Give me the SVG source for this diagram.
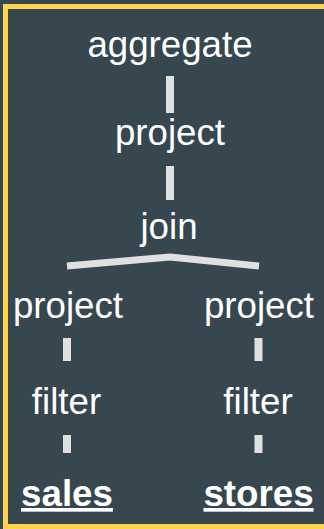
<svg xmlns="http://www.w3.org/2000/svg" width="324" height="529" viewBox="0 0 324 529">
<style>
.t{font-family:"Liberation Sans",Arial,sans-serif;font-size:36.7px;fill:#ffffff;text-anchor:middle}
.b{font-weight:bold;text-decoration:underline}
.c{stroke:#e0e0e0;fill:none;stroke-linecap:butt}
</style>
<rect x="0" y="0" width="324" height="529" fill="#37474f"/>
<rect x="5.5" y="6.5" width="340" height="520" fill="#37474f" stroke="#ffd54f" stroke-width="5"/>
<g id="connectors">
<line class="c" x1="170" y1="76" x2="170" y2="113" stroke-width="8"/>
<line class="c" x1="170" y1="166" x2="170" y2="200" stroke-width="8"/>
<polyline class="c" points="67,266 170,257 259,266" stroke-width="7" stroke-linejoin="round"/>
<line class="c" x1="67" y1="338" x2="67" y2="361" stroke-width="8"/>
<line class="c" x1="258.5" y1="338" x2="258.5" y2="361" stroke-width="8"/>
<line class="c" x1="67" y1="435" x2="67" y2="453" stroke-width="8"/>
<line class="c" x1="258.5" y1="435" x2="258.5" y2="453" stroke-width="8"/>
</g>
<g id="aggregate"><text class="t" x="170" y="57">aggregate</text></g>
<g id="project-top"><text class="t" x="170" y="145">project</text></g>
<g id="join"><text class="t" x="169" y="239">join</text></g>
<g id="project-left"><text class="t" x="68" y="318">project</text></g>
<g id="project-right"><text class="t" x="259" y="318">project</text></g>
<g id="filter-left"><text class="t" x="66.5" y="414">filter</text></g>
<g id="filter-right"><text class="t" x="258" y="414">filter</text></g>
<g id="sales"><text class="t b" x="67" y="506">sales</text></g>
<g id="stores"><text class="t b" x="258.5" y="506">stores</text></g>
</svg>
